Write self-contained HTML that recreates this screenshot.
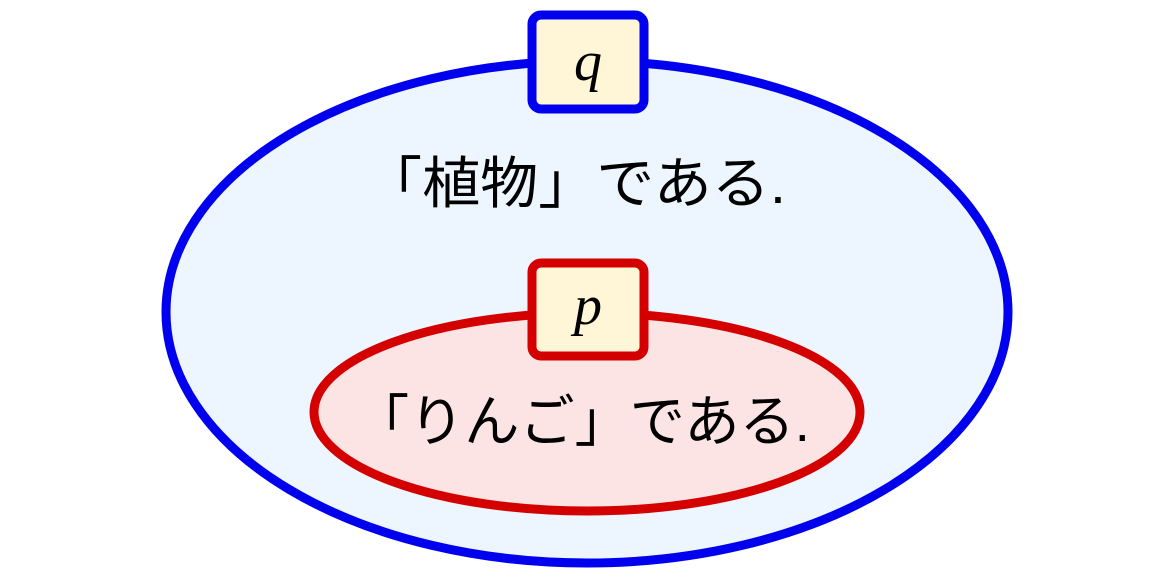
<!DOCTYPE html>
<html><head><meta charset="utf-8"><style>
html,body{margin:0;padding:0;background:#fff;}
</style></head><body>
<svg width="1174" height="577" viewBox="0 0 1174 577" xmlns="http://www.w3.org/2000/svg">
<ellipse cx="587" cy="312" rx="421" ry="251" fill="#edf5ff" stroke="#0000ee" stroke-width="9"/>
<ellipse cx="587" cy="412" rx="273" ry="99" fill="#fde4e4" stroke="#d40000" stroke-width="9"/>
<rect x="532" y="15" width="112" height="94" rx="9" fill="#fff6d8" stroke="#0000ee" stroke-width="9"/>
<rect x="532" y="263" width="112" height="93" rx="9" fill="#fff6d8" stroke="#d40000" stroke-width="9"/>
<text x="588" y="80" text-anchor="middle" font-family="Liberation Serif, serif" font-style="italic" font-size="56">q</text>
<text x="588" y="324" text-anchor="middle" font-family="Liberation Serif, serif" font-style="italic" font-size="56">p</text>
<text x="364" y="203" textLength="422" lengthAdjust="spacingAndGlyphs" font-family="Liberation Sans, Noto Sans CJK JP, sans-serif" font-size="56">「植物」である.</text>
<text x="354" y="441" textLength="456" lengthAdjust="spacingAndGlyphs" font-family="Liberation Sans, Noto Sans CJK JP, sans-serif" font-size="56">「りんご」である.</text>
</svg>
</body></html>
